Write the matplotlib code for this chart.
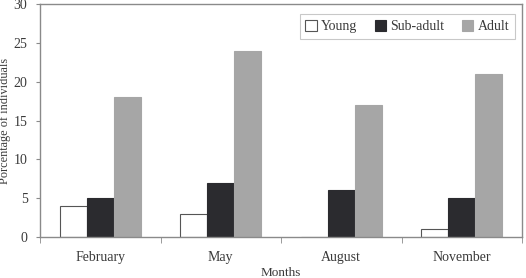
import numpy as np
import matplotlib.pyplot as plt

months = ["February", "May", "August", "November"]
young = [4, 3, 0, 1]
subadult = [5, 7, 6, 5]
adult = [18, 24, 17, 21]

def main():
	plt.rcParams['font.family'] = ['Liberation Serif', 'DejaVu Serif']
	txt = "#3a3a3a"
	edge = "#8a8a8a"
	fig = plt.figure(figsize=(5.26, 2.78), dpi=100)
	ax = fig.add_axes([40/526, 1-237/278, 482/526, 233/278])
	x = np.arange(len(months))
	w = 0.225
	ax.bar(x - w, young, w, color="white", edgecolor="#555555", linewidth=0.8, label="Young")
	ax.bar(x, subadult, w, color="#2b2b2f", edgecolor="#2b2b2f", linewidth=0.8, label="Sub-adult")
	ax.bar(x + w, adult, w, color="#a6a6a6", edgecolor="#a6a6a6", linewidth=0.8, label="Adult")
	ax.set_xlim(-0.5, 3.5)
	ax.set_ylim(0, 30)
	ax.set_yticks(range(0, 31, 5))
	ax.set_xticks(x)
	ax.set_xticklabels(months)
	ax.set_xticks(np.arange(-0.5, 4, 1), minor=True)
	ax.tick_params(axis="x", which="major", length=0, pad=10, labelsize=10, labelcolor=txt)
	ax.tick_params(axis="x", which="minor", length=4, color=edge, direction="out")
	ax.tick_params(axis="y", length=3, color=edge, pad=6, labelsize=10, labelcolor=txt)
	for s in ax.spines.values():
		s.set_color(edge)
		s.set_linewidth(1)
	ax.set_ylabel("Porcentage of individuals", fontsize=8.8, color=txt, labelpad=2)
	ax.set_xlabel("Months", fontsize=9.5, color=txt, labelpad=2)
	leg = ax.legend(loc="upper right", ncol=3, frameon=True, fancybox=False, fontsize=10,
		bbox_to_anchor=(0.985, 0.955), borderaxespad=0, handlelength=0.8, handleheight=0.8,
		handletextpad=0.3, columnspacing=1.3, borderpad=0.4, labelcolor=txt)
	leg.get_frame().set_edgecolor("#bbbbbb")
	leg.get_frame().set_linewidth(0.8)
	fig.savefig("out.png", dpi=100)

if __name__ == "__main__":
	main()
